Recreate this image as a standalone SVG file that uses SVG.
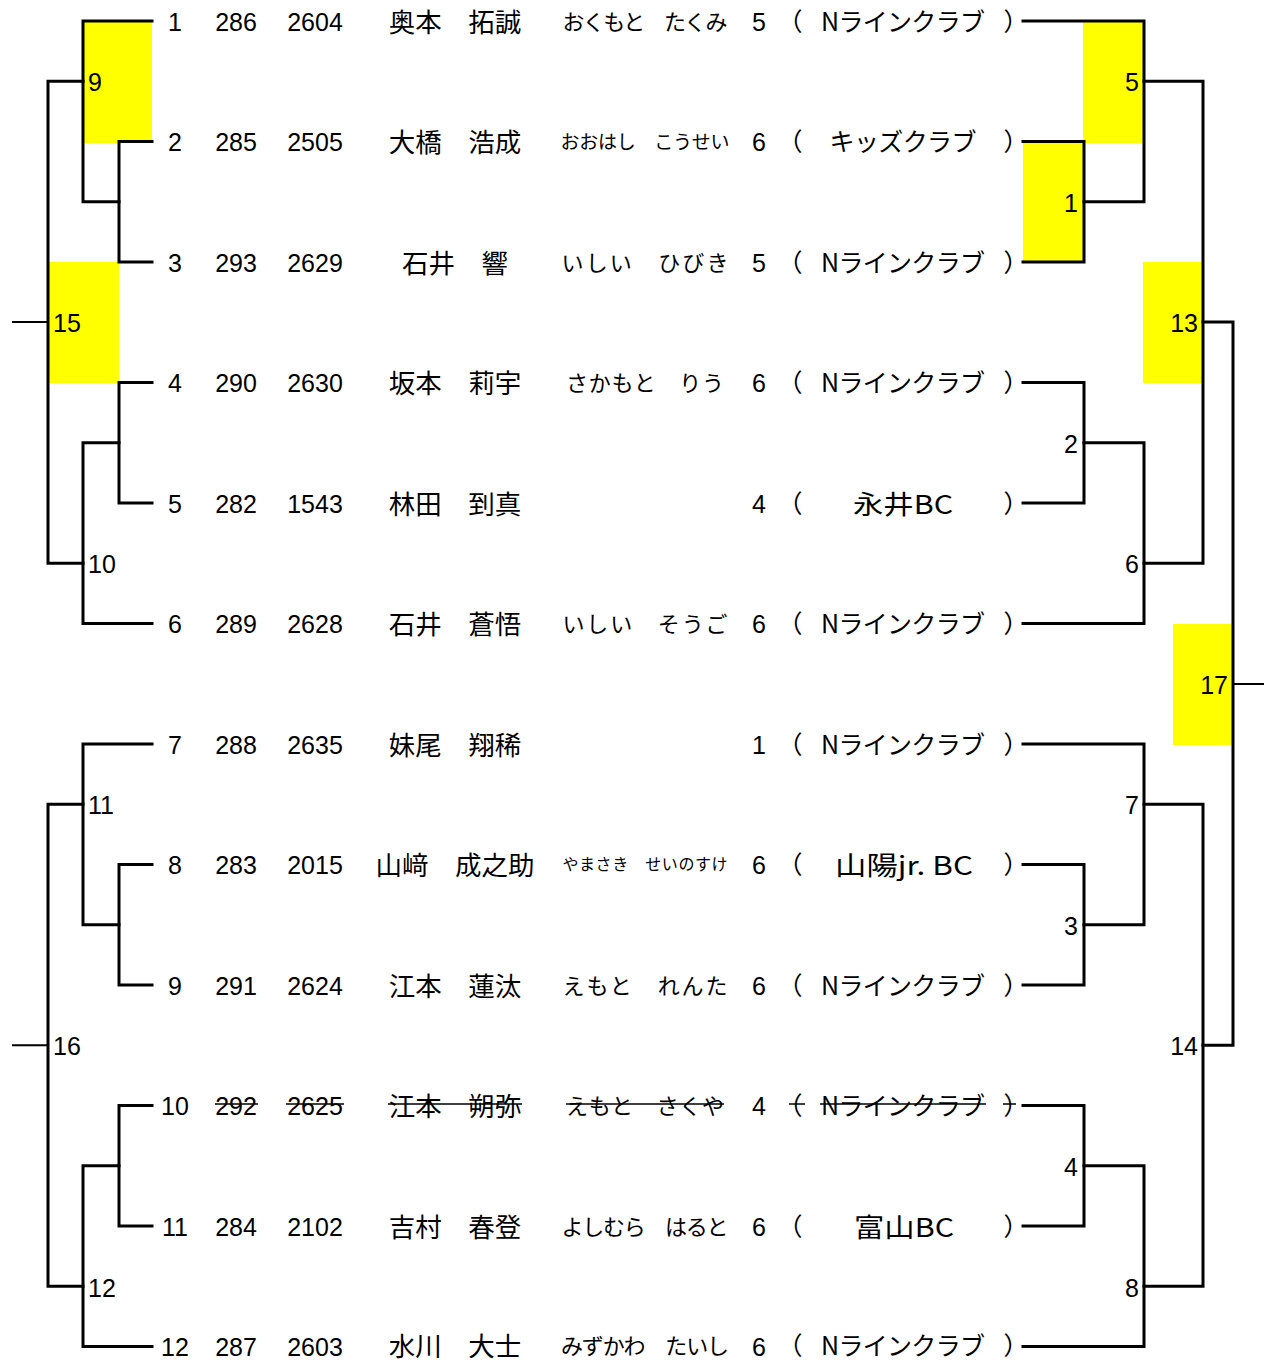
<svg xmlns="http://www.w3.org/2000/svg" width="1271" height="1362" viewBox="0 0 1271 1362">
<style>
.ln{stroke:#000;stroke-width:3;fill:none;stroke-linecap:square}
.stub{stroke:#000;stroke-width:2;fill:none}
.strike{stroke:#000;stroke-width:1.5;fill:none}
.hl{fill:#FFFF00}
text{font-family:"Liberation Sans","Noto Sans CJK JP",sans-serif;font-size:25px;fill:#000;dominant-baseline:central}
.c{text-anchor:middle}
.e{text-anchor:end}
.jp{font-family:"Noto Sans CJK JP",sans-serif}
.nm{font-size:26.5px}
.kn{font-size:22px}
.tm{font-size:25px}
</style>
<g id="highlights">
<rect class="hl" x="84" y="21" width="68" height="122"/>
<rect class="hl" x="48" y="262" width="71" height="121"/>
<rect class="hl" x="1083" y="21" width="61" height="122"/>
<rect class="hl" x="1023" y="141" width="61" height="121"/>
<rect class="hl" x="1143" y="262" width="60" height="121"/>
<rect class="hl" x="1173" y="624" width="60" height="121"/>
</g>
<g id="connectors">
<path class="ln" d="M152,21 H83 V201.75 H119"/>
<path class="ln" d="M152,141.5 H119 V262 H152"/>
<path class="ln" d="M83,81.25 H48 V563.25 H83"/>
<path class="stub" d="M12,322 H48"/>
<path class="ln" d="M152,382.5 H119 V503 H152"/>
<path class="ln" d="M119,442.75 H83 V623.5 H152"/>
<path class="ln" d="M152,744 H83 V924.75 H119"/>
<path class="ln" d="M152,864.5 H119 V985 H152"/>
<path class="ln" d="M83,804.25 H48 V1286.25 H83"/>
<path class="stub" d="M12,1045.25 H48"/>
<path class="ln" d="M152,1105.5 H119 V1226 H152"/>
<path class="ln" d="M119,1165.75 H83 V1346.5 H152"/>
<path class="ln" d="M1023,21 H1144 V201.75 H1084"/>
<path class="ln" d="M1023,141.5 H1084 V262 H1023"/>
<path class="ln" d="M1144,81.25 H1203 V563.25 H1144"/>
<path class="ln" d="M1203,322 H1233 V1045.25 H1203"/>
<path class="stub" d="M1233,684 H1264"/>
<path class="ln" d="M1023,382.5 H1084 V503 H1023"/>
<path class="ln" d="M1084,442.75 H1144 V623.5 H1023"/>
<path class="ln" d="M1023,744 H1144 V924.75 H1084"/>
<path class="ln" d="M1023,864.5 H1084 V985 H1023"/>
<path class="ln" d="M1144,804.25 H1203 V1286.25 H1144"/>
<path class="ln" d="M1023,1105.5 H1084 V1226 H1023"/>
<path class="ln" d="M1084,1165.75 H1144 V1346.5 H1023"/>
</g>
<g id="match-labels">
<text x="88" y="82">9</text>
<text x="53" y="323">15</text>
<text x="88" y="564">10</text>
<text x="88" y="805">11</text>
<text x="53" y="1046">16</text>
<text x="88" y="1288">12</text>
<text class="e" x="1139" y="82">5</text>
<text class="e" x="1078" y="203">1</text>
<text class="e" x="1198" y="323">13</text>
<text class="e" x="1078" y="444">2</text>
<text class="e" x="1139" y="564">6</text>
<text class="e" x="1228" y="685">17</text>
<text class="e" x="1139" y="805">7</text>
<text class="e" x="1078" y="926">3</text>
<text class="e" x="1198" y="1046">14</text>
<text class="e" x="1078" y="1167">4</text>
<text class="e" x="1139" y="1288">8</text>
</g>
<g id="player-1">
<text class="c" x="175" y="22">1</text><text class="c" x="236" y="22">286</text><text class="c" x="315" y="22">2604</text>
<text class="c jp nm" x="455" y="20">奥本　拓誠</text>
<text class="c jp kn" x="645" y="20" textLength="165" lengthAdjust="spacing">おくもと　たくみ</text>
<text class="c" x="759" y="22">5</text><text class="c jp" x="790" y="20">（</text>
<text class="c jp tm" x="903" y="20" textLength="164" lengthAdjust="spacing">Nラインクラブ</text><text class="c jp" x="1016" y="20">）</text>
</g>
<g id="player-2">
<text class="c" x="175" y="142">2</text><text class="c" x="236" y="142">285</text><text class="c" x="315" y="142">2505</text>
<text class="c jp nm" x="455" y="140">大橋　浩成</text>
<text class="c jp" style="font-size:19px" x="645" y="140" textLength="169" lengthAdjust="spacing">おおはし　こうせい</text>
<text class="c" x="759" y="142">6</text><text class="c jp" x="790" y="140">（</text>
<text class="c jp tm" x="903" y="140" textLength="147" lengthAdjust="spacing">キッズクラブ</text><text class="c jp" x="1016" y="140">）</text>
</g>
<g id="player-3">
<text class="c" x="175" y="263">3</text><text class="c" x="236" y="263">293</text><text class="c" x="315" y="263">2629</text>
<text class="c jp nm" x="455" y="261">石井　響</text>
<text class="c jp kn" x="645" y="261" textLength="167" lengthAdjust="spacing">いしい　ひびき</text>
<text class="c" x="759" y="263">5</text><text class="c jp" x="790" y="261">（</text>
<text class="c jp tm" x="903" y="261" textLength="164" lengthAdjust="spacing">Nラインクラブ</text><text class="c jp" x="1016" y="261">）</text>
</g>
<g id="player-4">
<text class="c" x="175" y="383">4</text><text class="c" x="236" y="383">290</text><text class="c" x="315" y="383">2630</text>
<text class="c jp nm" x="455" y="381">坂本　莉宇</text>
<text class="c jp kn" x="645" y="381" textLength="158" lengthAdjust="spacing">さかもと　りう</text>
<text class="c" x="759" y="383">6</text><text class="c jp" x="790" y="381">（</text>
<text class="c jp tm" x="903" y="381" textLength="164" lengthAdjust="spacing">Nラインクラブ</text><text class="c jp" x="1016" y="381">）</text>
</g>
<g id="player-5">
<text class="c" x="175" y="504">5</text><text class="c" x="236" y="504">282</text><text class="c" x="315" y="504">1543</text>
<text class="c jp nm" x="455" y="502">林田　到真</text>
<text class="c" x="759" y="504">4</text><text class="c jp" x="790" y="502">（</text>
<text class="c jp tm" x="903" y="502" textLength="100" lengthAdjust="spacingAndGlyphs" style="font-size:26px">永井BC</text><text class="c jp" x="1016" y="502">）</text>
</g>
<g id="player-6">
<text class="c" x="175" y="624">6</text><text class="c" x="236" y="624">289</text><text class="c" x="315" y="624">2628</text>
<text class="c jp nm" x="455" y="622">石井　蒼悟</text>
<text class="c jp kn" x="645" y="622" textLength="165" lengthAdjust="spacing">いしい　そうご</text>
<text class="c" x="759" y="624">6</text><text class="c jp" x="790" y="622">（</text>
<text class="c jp tm" x="903" y="622" textLength="164" lengthAdjust="spacing">Nラインクラブ</text><text class="c jp" x="1016" y="622">）</text>
</g>
<g id="player-7">
<text class="c" x="175" y="745">7</text><text class="c" x="236" y="745">288</text><text class="c" x="315" y="745">2635</text>
<text class="c jp nm" x="455" y="743">妹尾　翔稀</text>
<text class="c" x="759" y="745">1</text><text class="c jp" x="790" y="743">（</text>
<text class="c jp tm" x="903" y="743" textLength="164" lengthAdjust="spacing">Nラインクラブ</text><text class="c jp" x="1016" y="743">）</text>
</g>
<g id="player-8">
<text class="c" x="175" y="865">8</text><text class="c" x="236" y="865">283</text><text class="c" x="315" y="865">2015</text>
<text class="c jp nm" x="455" y="863">山﨑　成之助</text>
<text class="c jp" style="font-size:16px" x="645" y="863" textLength="165" lengthAdjust="spacing">やまさき　せいのすけ</text>
<text class="c" x="759" y="865">6</text><text class="c jp" x="790" y="863">（</text>
<text class="c jp tm" x="904" y="863" textLength="138" lengthAdjust="spacingAndGlyphs" style="font-size:26px">山陽jr. BC</text><text class="c jp" x="1016" y="863">）</text>
</g>
<g id="player-9">
<text class="c" x="175" y="986">9</text><text class="c" x="236" y="986">291</text><text class="c" x="315" y="986">2624</text>
<text class="c jp nm" x="455" y="984">江本　蓮汰</text>
<text class="c jp kn" x="645" y="984" textLength="165" lengthAdjust="spacing">えもと　れんた</text>
<text class="c" x="759" y="986">6</text><text class="c jp" x="790" y="984">（</text>
<text class="c jp tm" x="903" y="984" textLength="164" lengthAdjust="spacing">Nラインクラブ</text><text class="c jp" x="1016" y="984">）</text>
</g>
<g id="player-10">
<text class="c" x="175" y="1106">10</text><text class="c" x="236" y="1106">292</text><text class="c" x="315" y="1106">2625</text>
<text class="c jp nm" x="455" y="1104">江本　朔弥</text>
<text class="c jp kn" x="645" y="1104" textLength="158" lengthAdjust="spacing">えもと　さくや</text>
<text class="c" x="759" y="1106">4</text><text class="c jp" x="790" y="1104">（</text>
<text class="c jp tm" x="903" y="1104" textLength="164" lengthAdjust="spacing">Nラインクラブ</text><text class="c jp" x="1016" y="1104">）</text>
<path class="strike" d="M215,1104 H258 M286,1104 H344 M388,1104 H522 M566,1104 H724 M789,1104 H805 M820,1104 H986 M1003,1104 H1016"/>
</g>
<g id="player-11">
<text class="c" x="175" y="1227">11</text><text class="c" x="236" y="1227">284</text><text class="c" x="315" y="1227">2102</text>
<text class="c jp nm" x="455" y="1225">吉村　春登</text>
<text class="c jp kn" x="645" y="1225" textLength="167" lengthAdjust="spacing">よしむら　はると</text>
<text class="c" x="759" y="1227">6</text><text class="c jp" x="790" y="1225">（</text>
<text class="c jp tm" x="904" y="1225" textLength="100" lengthAdjust="spacingAndGlyphs" style="font-size:26px">富山BC</text><text class="c jp" x="1016" y="1225">）</text>
</g>
<g id="player-12">
<text class="c" x="175" y="1347">12</text><text class="c" x="236" y="1347">287</text><text class="c" x="315" y="1347">2603</text>
<text class="c jp nm" x="455" y="1344">水川　大士</text>
<text class="c jp kn" x="645" y="1344" textLength="168" lengthAdjust="spacing">みずかわ　たいし</text>
<text class="c" x="759" y="1347">6</text><text class="c jp" x="790" y="1344">（</text>
<text class="c jp tm" x="903" y="1344" textLength="164" lengthAdjust="spacing">Nラインクラブ</text><text class="c jp" x="1016" y="1344">）</text>
</g>
</svg>
